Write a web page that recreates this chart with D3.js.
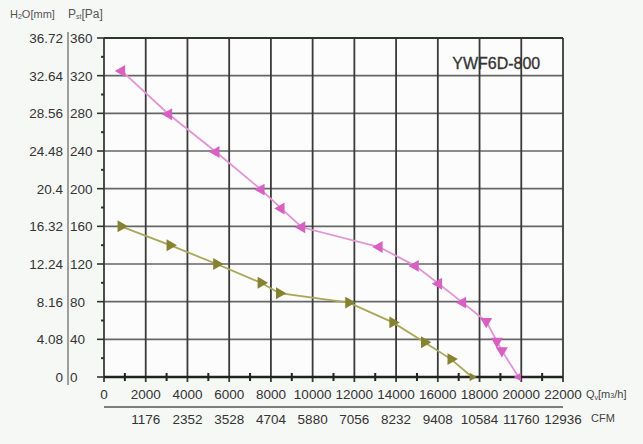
<!DOCTYPE html>
<html>
<head>
<meta charset="utf-8">
<script src="https://cdn.jsdelivr.net/npm/d3@7"></script>
<style>
  body { margin: 0; background: #f6f8f6; }
  text { font-family: "Liberation Sans", Arial, sans-serif; }
</style>
</head>
<body>
<div id="chart"></div>
<script>
// data
var flowTicks = [0, 2000, 4000, 6000, 8000, 10000, 12000, 14000, 16000, 18000, 20000, 22000];
var cfmLabels = ["1176", "2352", "3528", "4704", "5880", "7056", "8232", "9408", "10584", "11760", "12936"];
var psTicks = [0, 40, 80, 120, 160, 200, 240, 280, 320, 360];
var h2oLabels = ["0", "4.08", "8.16", "12.24", "16.32", "20.4", "24.48", "28.56", "32.64", "36.72"];

var highFlow = [850, 3100, 5370, 7530, 8490, 9480, 13190, 14920, 16040, 17190, 18320, 18830, 19070, 19870];
var highPs   = [325, 279, 239, 199, 179, 159, 138, 118, 99, 79, 59, 38, 28, 0];

var lowFlow = [815, 3165, 5400, 7530, 8410, 11730, 13845, 15360, 16630, 17640];
var lowPs   = [160, 140, 120, 100, 89, 79, 58, 37, 19, 0];

var margin = {top: 38, right: 80, bottom: 67, left: 104},
    width = 643 - margin.left - margin.right,
    height = 444 - margin.top - margin.bottom;

var svg = d3.select("#chart")
  .append("svg")
    .attr("width", 643)
    .attr("height", 444);

svg.append("rect").attr("width", 643).attr("height", 444).attr("fill", "#f6f8f6");

var g = svg.append("g")
    .attr("transform", "translate(" + margin.left + "," + margin.top + ")");

var x = d3.scaleLinear().domain([0, 22000]).range([0, width]);
var y = d3.scaleLinear().domain([0, 360]).range([height, 0]);

g.append("rect").attr("width", width).attr("height", height).attr("fill", "#fbfcfb");

// horizontal grid
g.selectAll(".hgrid")
  .data(psTicks.filter(d => d > 0))
  .enter().append("line")
    .attr("x1", 0).attr("x2", width)
    .attr("y1", d => y(d)).attr("y2", d => y(d))
    .attr("stroke", "#666").attr("stroke-width", 1.6);

// vertical grid
g.selectAll(".vgrid")
  .data(flowTicks)
  .enter().append("line")
    .attr("x1", d => x(d)).attr("x2", d => x(d))
    .attr("y1", 0).attr("y2", height + 5)
    .attr("stroke", "#3a3a3a").attr("stroke-width", 1.8);

// y ticks (major + minor)
g.selectAll(".ytick")
  .data(psTicks)
  .enter().append("line")
    .attr("x1", -7).attr("x2", 0)
    .attr("y1", d => y(d)).attr("y2", d => y(d))
    .attr("stroke", "#333").attr("stroke-width", 1.6);
g.selectAll(".yminor")
  .data(d3.range(20, 360, 40))
  .enter().append("line")
    .attr("x1", -3).attr("x2", 0)
    .attr("y1", d => y(d)).attr("y2", d => y(d))
    .attr("stroke", "#333").attr("stroke-width", 2);

// x axis line with minor ticks
g.append("line")
  .attr("x1", 0).attr("x2", width)
  .attr("y1", height).attr("y2", height)
  .attr("stroke", "#222").attr("stroke-width", 2.6);
g.selectAll(".xminor")
  .data(d3.range(1000, 22000, 2000))
  .enter().append("line")
    .attr("x1", d => x(d)).attr("x2", d => x(d))
    .attr("y1", height - 4).attr("y2", height + 4)
    .attr("stroke", "#222").attr("stroke-width", 2);

// x labels
g.selectAll(".xlab")
  .data(flowTicks)
  .enter().append("text")
    .attr("x", d => x(d)).attr("y", height + 22)
    .attr("text-anchor", "middle")
    .attr("font-size", 13.5).attr("fill", "#333")
    .text(d => d);

// CFM line and labels
g.append("line")
  .attr("x1", 0).attr("x2", width)
  .attr("y1", height + 30).attr("y2", height + 30)
  .attr("stroke", "#555").attr("stroke-width", 1.5);
g.selectAll(".cfm")
  .data(cfmLabels)
  .enter().append("text")
    .attr("x", (d, i) => x(flowTicks[i + 1])).attr("y", height + 47)
    .attr("text-anchor", "middle")
    .attr("font-size", 13.5).attr("fill", "#333")
    .text(d => d);

var qv = g.append("text").attr("x", width + 23).attr("y", height + 21)
  .attr("font-size", 11).attr("fill", "#444");
qv.append("tspan").text("Q");
qv.append("tspan").attr("font-size", 7).attr("dy", 2).text("v");
qv.append("tspan").attr("dy", -2).text("[m");
qv.append("tspan").attr("font-size", 7).attr("dy", 0).text("3");
qv.append("tspan").text("/h]");
g.append("text").attr("x", width + 28).attr("y", height + 45)
  .attr("font-size", 11).attr("fill", "#444").text("CFM");

// y labels: Pa and mm H2O
g.selectAll(".ps")
  .data(psTicks)
  .enter().append("text")
    .attr("x", -34).attr("y", d => y(d) + 5)
    .attr("font-size", 13.5).attr("fill", "#333")
    .text(d => d);
g.selectAll(".mm")
  .data(h2oLabels)
  .enter().append("text")
    .attr("x", -41).attr("y", (d, i) => y(psTicks[i]) + 5)
    .attr("text-anchor", "end")
    .attr("font-size", 13.5).attr("fill", "#333")
    .text(d => d);
g.append("line")
  .attr("x1", -36).attr("x2", -36)
  .attr("y1", -6).attr("y2", height + 8)
  .attr("stroke", "#888").attr("stroke-width", 1.6);

var hh = g.append("text").attr("x", -94).attr("y", -20)
  .attr("font-size", 11).attr("fill", "#555");
hh.append("tspan").text("H");
hh.append("tspan").attr("font-size", 7).attr("dy", 1).text("2");
hh.append("tspan").attr("dy", -1).text("O[mm]");
var pp = g.append("text").attr("x", -36).attr("y", -20)
  .attr("font-size", 12).attr("fill", "#555");
pp.append("tspan").text("P");
pp.append("tspan").attr("font-size", 7).attr("dy", 1).text("st");
pp.append("tspan").attr("dy", -1).text("[Pa]");

// border top
g.append("line").attr("x1", 0).attr("x2", width).attr("y1", 0).attr("y2", 0)
  .attr("stroke", "#333").attr("stroke-width", 1.8);

// title
g.append("text").attr("x", x(18800)).attr("y", 31)
  .attr("text-anchor", "middle")
  .attr("font-size", 16).attr("fill", "#333")
  .attr("stroke", "#333").attr("stroke-width", 0.3)
  .text("YWF6D-800");

// curves
function drawCurve(flows, ps, lineColor, markColor, dir) {
  var pts = flows.map((f, i) => ({q: f, p: ps[i]}));
  g.append("path")
    .datum(pts)
    .attr("fill", "none")
    .attr("stroke", lineColor)
    .attr("stroke-width", 1.8)
    .attr("d", d3.line().x(d => x(d.q)).y(d => y(d.p)));
  g.selectAll(null)
    .data(pts)
    .enter().append("path")
      .attr("d", d => d3.symbol().type(d3.symbolTriangle).size(d.p === 0 ? 30 : 62)())
      .attr("fill", markColor)
      .attr("transform", function (d, i) {
        var rot = dir;
        // steep parts of the curve carry downward markers
        if (dir < 0 && i < pts.length - 1) {
          var n = pts[i + 1];
          var slope = (y(n.p) - y(d.p)) / (x(n.q) - x(d.q));
          if (slope > 1.2) rot = 180;
        }
        return "translate(" + x(d.q) + "," + y(d.p) + ") rotate(" + rot + ")";
      });
}

drawCurve(highFlow, highPs, "#e394d6", "#d761c2", -90);
drawCurve(lowFlow, lowPs, "#a9a75a", "#858232", 90);
</script>
</body>
</html>
